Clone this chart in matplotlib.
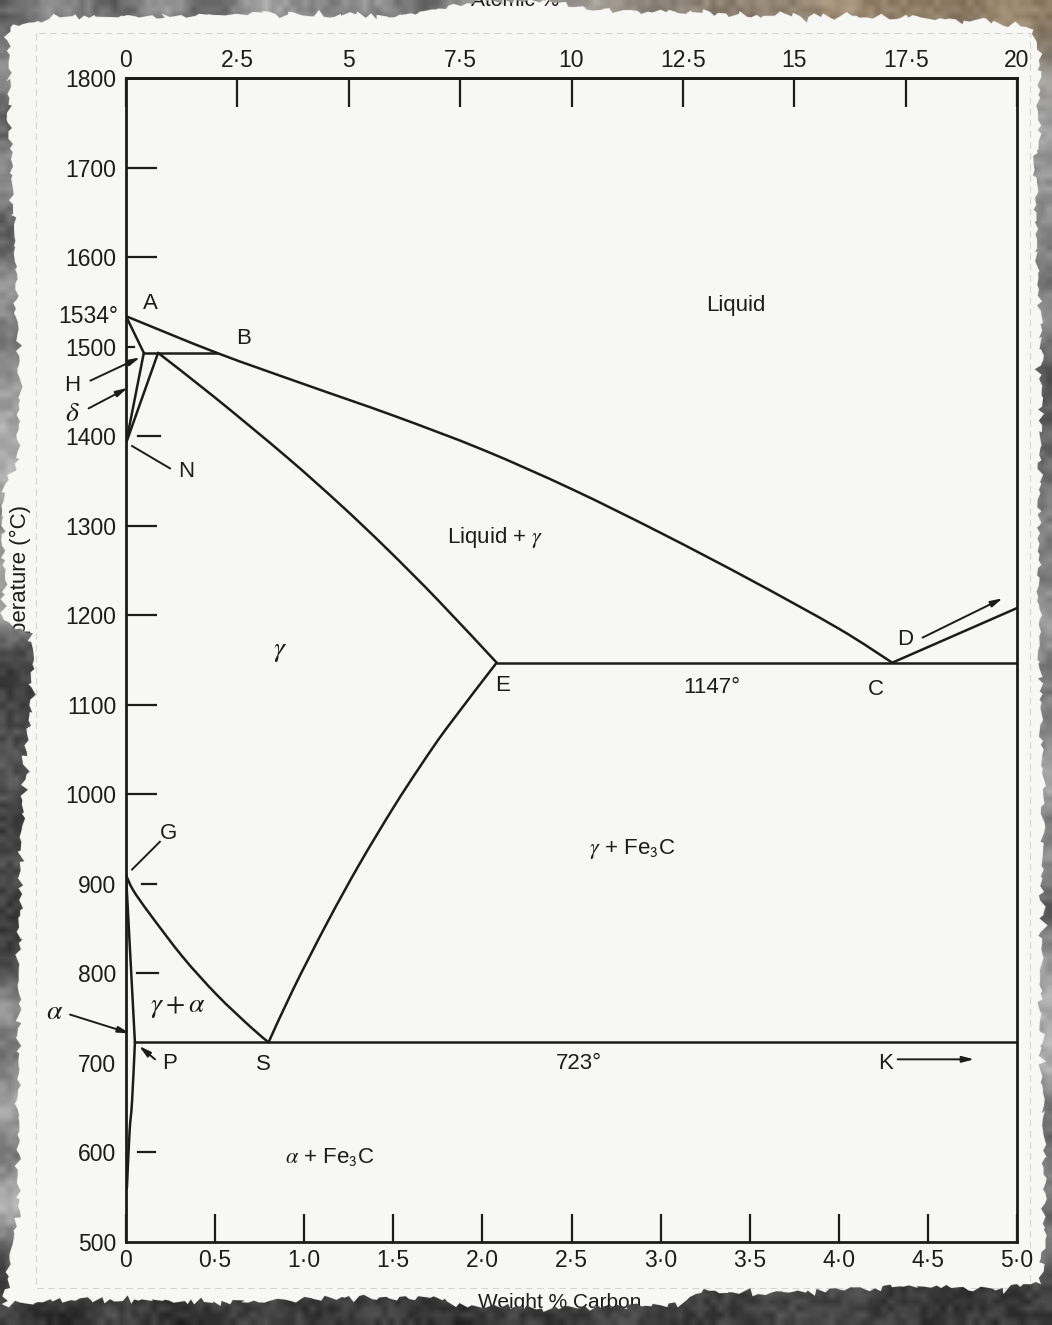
import numpy as np
import matplotlib.pyplot as plt
from matplotlib.patches import Polygon, PathPatch
from matplotlib.path import Path

plt.rcParams['font.family'] = ['Liberation Sans', 'DejaVu Sans']

# Fe-C phase boundaries: weight % carbon against temperature (deg C)
liquidus_c = [0, 0.51, 1.0, 1.5, 2.0, 2.5, 3.0, 3.5, 4.0, 4.3]
liquidus_t = [1534, 1493, 1458, 1423, 1385, 1341, 1292, 1240, 1185, 1147]

cementite_liq_c = [4.3, 5.0]
cementite_liq_t = [1147, 1208]

delta_ah_c = [0, 0.10]
delta_ah_t = [1534, 1493]
delta_hn_c = [0.10, 0]
delta_hn_t = [1493, 1392]
delta_jn_c = [0.18, 0]
delta_jn_t = [1493, 1392]

solidus_je_c = [0.18, 0.5, 0.9, 1.2, 1.46, 1.75, 2.08]
solidus_je_t = [1493, 1443, 1377, 1324, 1275, 1217, 1147]

a3_c = [0, 0.04, 0.135, 0.32, 0.51, 0.70, 0.8]
a3_t = [910, 893, 866, 818, 776, 740, 723]

acm_c = [0.8, 0.94, 1.13, 1.31, 1.5, 1.65, 1.8, 2.08]
acm_t = [723, 783, 857, 922, 985, 1031, 1074, 1147]

gp_c = [0, 0.05]
gp_t = [910, 723]
pq_c = [0.05, 0.034, 0.02, 0.005]
pq_t = [723, 657, 623, 560]

peritectic_c = [0.10, 0.51]
peritectic_t = [1493, 1493]
eutectic_c = [2.08, 5.0]
eutectic_t = [1147, 1147]
eutectoid_c = [0.05, 5.0]
eutectoid_t = [723, 723]

wt_ticks = [0, 0.5, 1.0, 1.5, 2.0, 2.5, 3.0, 3.5, 4.0, 4.5, 5.0]
wt_labels = ['0', '0·5', '1·0', '1·5', '2·0', '2·5', '3·0', '3·5', '4·0', '4·5', '5·0']
at_ticks = [0, 2.5, 5, 7.5, 10, 12.5, 15, 17.5, 20]
at_labels = ['0', '2·5', '5', '7·5', '10', '12·5', '15', '17·5', '20']
temp_ticks = list(range(500, 1801, 100))

ink = '#1c1c1c'
paper_col = '#f7f7f5'
W, H = 1052, 1325

fig = plt.figure(figsize=(W / 100, H / 100), dpi=100)

# stone texture, reused under and over the torn sheet
rng = np.random.default_rng(11)
rows, cols = 44, 35
yy, xx = np.mgrid[0:1:rows * 1j, 0:1:cols * 1j]
grey = 0.30 + 0.5 * rng.random((rows, cols))
rgb = np.dstack([grey, grey, grey])
tan = np.array([0.70, 0.60, 0.47])
w = np.clip((xx - 0.45) * 2.5, 0, 1) * np.clip((0.06 - yy) / 0.06, 0, 1)
rgb = rgb * (1 - w[..., None]) + (tan * (0.6 + 0.5 * grey[..., None])) * w[..., None]
rgb[yy > 0.97] *= 0.35
rgb[(xx < 0.04) & (yy > 0.48) & (yy < 0.76)] *= 0.45
rgb = np.clip(rgb, 0, 1)
grain = rng.random((200, 160))


def torn(points, step=5, amp=1.8):
    out = []
    for (x0, y0), (x1, y1) in zip(points[:-1], points[1:]):
        n = max(int(np.hypot(x1 - x0, y1 - y0) / step), 1)
        for k in range(n):
            f = k / n
            out.append((x0 + (x1 - x0) * f + rng.normal(0, amp),
                        y0 + (y1 - y0) * f + rng.normal(0, amp)))
    return out


outline = [(8, 26), (60, 18), (150, 16), (300, 14), (400, 16), (455, 7), (480, 2),
           (560, 2), (590, 8), (650, 11), (760, 15), (880, 17), (980, 21), (1032, 27),
           (1040, 60), (1036, 200), (1042, 400), (1038, 600), (1044, 800),
           (1040, 1000), (1046, 1200), (1042, 1282),
           (1000, 1290), (900, 1286), (800, 1292), (700, 1292), (680, 1305),
           (560, 1308), (460, 1306), (440, 1298), (350, 1297), (250, 1302),
           (150, 1301), (60, 1299), (4, 1306),
           (18, 1200), (18, 1000), (22, 800), (31, 700), (31, 634), (4, 622),
           (3, 490), (16, 470), (20, 400), (12, 200), (8, 26)]
edge = torn(outline)


def backdrop(a, clip=None):
    a.set_xlim(0, W)
    a.set_ylim(H, 0)
    a.axis('off')
    ims = [a.imshow(rgb, extent=(0, W, H, 0), interpolation='bicubic', aspect='auto', zorder=0),
           a.imshow(grain, cmap='gray', alpha=0.14, extent=(0, W, H, 0),
                    interpolation='bilinear', aspect='auto', zorder=1)]
    if clip is not None:
        for im in ims:
            im.set_clip_path(clip, a.transData)


bg = fig.add_axes([0, 0, 1, 1])
backdrop(bg)
paper = Polygon(edge, closed=True, facecolor=paper_col, edgecolor='#e8e8e6',
                lw=1.0, zorder=2)
bg.add_patch(paper)
# faint crop line of the scanned page
bg.plot([36, 36, 1030, 1030, 36], [33, 1288, 1288, 33, 33], color='#d4d4d2',
        lw=0.8, ls=(0, (6, 4)), zorder=3)


def smooth(c, t):
    # Catmull-Rom spline through the points, as cubic Bezier pieces
    p = np.column_stack([c, t]).astype(float)
    verts, codes = [p[0]], [Path.MOVETO]
    for i in range(len(p) - 1):
        p0 = p[i - 1] if i > 0 else p[i]
        p3 = p[i + 2] if i + 2 < len(p) else p[i + 1]
        verts += [p[i] + (p[i + 1] - p0) / 6, p[i + 1] - (p3 - p[i]) / 6, p[i + 1]]
        codes += [Path.CURVE4] * 3
    return Path(verts, codes)


# the diagram itself
ax = fig.add_axes([126 / W, 83 / H, 891 / W, 1164 / H])
ax.set_facecolor('none')
ax.set_xlim(0, 5)
ax.set_ylim(500, 1800)
for s in ax.spines.values():
    s.set_linewidth(2.0)
    s.set_color(ink)

for c, t in [(liquidus_c, liquidus_t), (solidus_je_c, solidus_je_t),
             (a3_c, a3_t), (acm_c, acm_t), (pq_c, pq_t)]:
    ax.add_patch(PathPatch(smooth(c, t), fill=False, ec=ink, lw=1.8, capstyle='round'))

for c, t in [(cementite_liq_c, cementite_liq_t),
             (delta_ah_c, delta_ah_t), (delta_hn_c, delta_hn_t), (delta_jn_c, delta_jn_t),
             (gp_c, gp_t), (peritectic_c, peritectic_t),
             (eutectic_c, eutectic_t), (eutectoid_c, eutectoid_t)]:
    ax.plot(c, t, color=ink, lw=1.8, solid_capstyle='round')

ax.set_xticks(wt_ticks, wt_labels)
ax.set_yticks(temp_ticks, [str(v) for v in temp_ticks])
ax.tick_params(axis='x', direction='in', length=20, width=1.6, pad=5,
               labelsize=16.5, colors=ink, top=False)
ax.tick_params(axis='y', direction='in', length=22, width=1.6, pad=7,
               labelsize=16.5, colors=ink, right=False)

# ticks that sit off the axis next to the delta / alpha boundaries
hidden = {500, 1800, 1500, 1400, 900, 800, 700, 600}
for tk, v in zip(ax.yaxis.get_major_ticks(), temp_ticks):
    if v in hidden:
        tk.tick1line.set_visible(False)
for x0, x1, v in [(0, 0.045, 1500), (0.067, 0.19, 1400), (0.09, 0.17, 900),
                  (0.06, 0.18, 800), (0.07, 0.16, 600)]:
    ax.plot([x0, x1], [v, v], color=ink, lw=1.6)

secax = ax.secondary_xaxis('top', functions=(lambda w: w * 4, lambda a: a / 4))
secax.set_xticks(at_ticks, at_labels)
secax.tick_params(direction='in', length=21, width=1.6, pad=4, labelsize=16.5, colors=ink)
secax.spines['top'].set_linewidth(2.0)

txt = dict(color=ink, fontsize=16, ha='center', va='center')
greek = dict(color=ink, fontsize=20, ha='center', va='center', math_fontfamily='stix')

ax.text(-0.045, 1534, '1534°', ha='right', va='center', color=ink, fontsize=16.5)
ax.text(0.135, 1548, 'A', **txt)
ax.text(0.66, 1509, 'B', **txt)
ax.text(-0.30, 1457, 'H', **txt)
ax.text(-0.30, 1425, r'$\delta$', **greek)
ax.text(0.34, 1361, 'N', **txt)
ax.text(3.42, 1546, 'Liquid', **txt)
ax.text(2.07, 1287, r'Liquid + $\gamma$', color=ink, fontsize=16, ha='center',
        va='center', math_fontfamily='stix')
ax.text(0.864, 1160, r'$\gamma$', **greek)
ax.text(2.115, 1121, 'E', **txt)
ax.text(3.29, 1119, '1147°', **txt)
ax.text(4.21, 1117, 'C', **txt)
ax.text(4.37, 1173, 'D', **txt)
ax.text(0.236, 956, 'G', **txt)
ax.text(2.84, 939, r'$\gamma$ + Fe$_{\mathsf{3}}$C', color=ink, fontsize=16,
        ha='center', va='center', math_fontfamily='stix')
ax.text(0.29, 763, r'$\gamma + \alpha$', **greek)
ax.text(-0.40, 757, r'$\alpha$', **greek)
ax.text(0.247, 699, 'P', **txt)
ax.text(0.77, 698, 'S', **txt)
ax.text(2.54, 699, '723°', **txt)
ax.text(4.26, 699, 'K', **txt)
ax.text(1.145, 595, r'$\alpha$ + Fe$_{\mathsf{3}}$C', color=ink, fontsize=16,
        ha='center', va='center', math_fontfamily='stix')

# pointer lines and arrows
ax.plot([0.034, 0.247], [1389, 1364], color=ink, lw=1.4)
ax.plot([0.034, 0.19], [916, 947], color=ink, lw=1.4)
arrow = dict(arrowstyle='-|>,head_length=0.7,head_width=0.18', color=ink, lw=1.4,
             shrinkA=0, shrinkB=0)
for tail, head in [((-0.20, 1462), (0.079, 1488)),
                   ((-0.21, 1431), (0.01, 1454)),
                   ((4.47, 1175), (4.92, 1219)),
                   ((-0.314, 754), (0.022, 733)),
                   ((0.163, 704), (0.073, 719)),
                   ((4.33, 704), (4.76, 704))]:
    ax.annotate('', xy=head, xytext=tail, arrowprops=arrow)

# axis titles, partly hidden under the torn edge of the sheet
fig.text(20 / W, 1 - 591 / H, 'Temperature (°C)', rotation=90,
         ha='center', va='center', fontsize=16, color=ink)
fig.text(560 / W, 1 - 1303 / H, 'Weight % Carbon',
         ha='center', va='center', fontsize=15, color=ink)
fig.text(515 / W, 1 - 1 / H, 'Atomic %',
         ha='center', va='center', fontsize=15, color=ink)

# stone texture again, only outside the sheet, above everything else
ring_v = [(0, 0), (0, H), (W, H), (W, 0), (0, 0)] + edge + [edge[0]]
ring_c = ([Path.MOVETO] + [Path.LINETO] * 3 + [Path.CLOSEPOLY]
          + [Path.MOVETO] + [Path.LINETO] * (len(edge) - 1) + [Path.CLOSEPOLY])
cover = fig.add_axes([0, 0, 1, 1], zorder=5)
backdrop(cover, Path(ring_v, ring_c))

fig.savefig('out.png', dpi=100)
